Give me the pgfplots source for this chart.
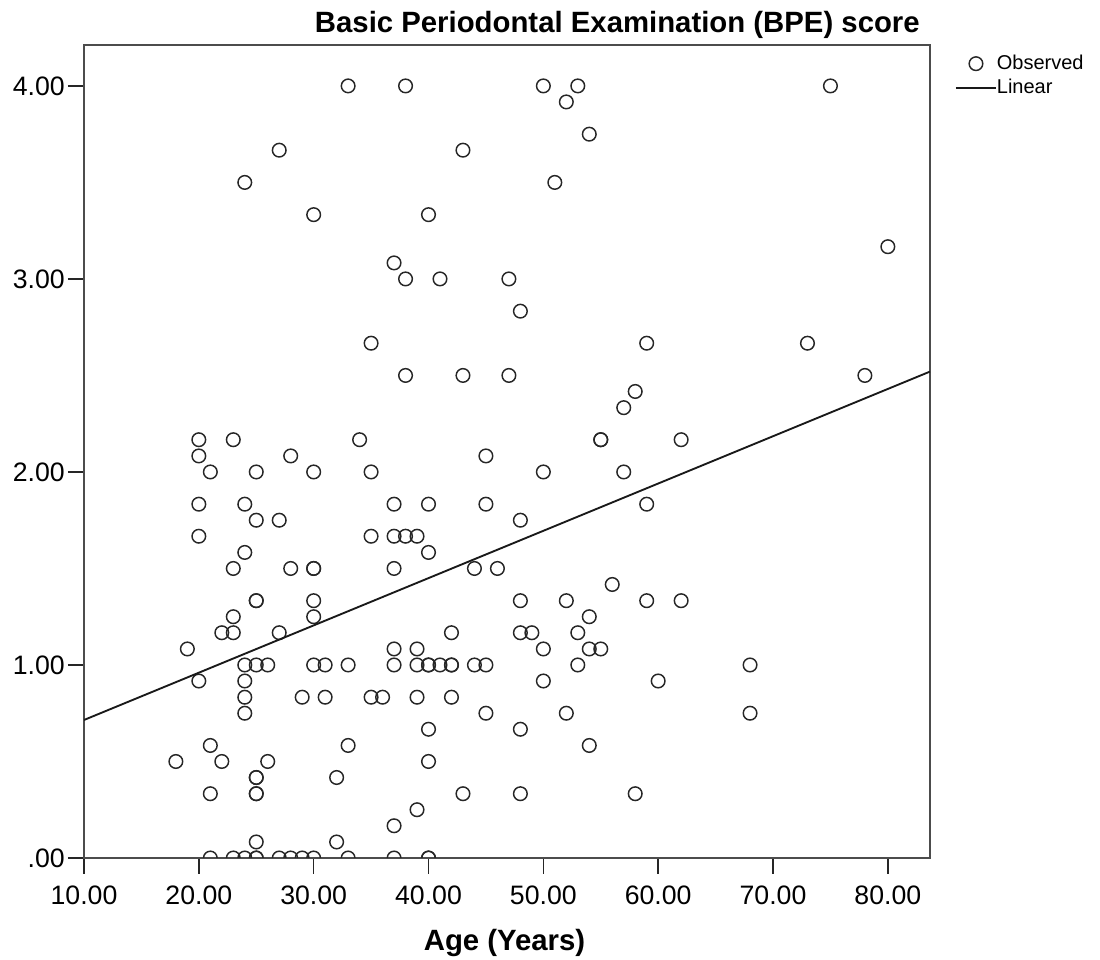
\documentclass[border=0pt]{standalone}
\usepackage{fontspec}
\setmainfont{Liberation Sans}
\usepackage{pgfplots}
\usepackage{pgfplotstable}
\pgfplotsset{compat=1.18}
\pgfplotstableread{
age bpe
33 4.000
38 4.000
50 4.000
53 4.000
75 4.000
52 3.917
54 3.750
27 3.667
43 3.667
24 3.500
51 3.500
30 3.333
40 3.333
80 3.167
37 3.083
38 3.000
41 3.000
47 3.000
48 2.833
35 2.667
59 2.667
73 2.667
38 2.500
43 2.500
47 2.500
78 2.500
58 2.417
57 2.333
20 2.167
23 2.167
34 2.167
55 2.167
55 2.167
62 2.167
20 2.083
28 2.083
45 2.083
21 2.000
25 2.000
30 2.000
35 2.000
50 2.000
57 2.000
20 1.833
24 1.833
37 1.833
40 1.833
45 1.833
59 1.833
25 1.750
27 1.750
48 1.750
20 1.667
35 1.667
37 1.667
38 1.667
39 1.667
24 1.583
40 1.583
23 1.500
28 1.500
30 1.500
30 1.500
37 1.500
44 1.500
46 1.500
56 1.417
25 1.333
25 1.333
30 1.333
48 1.333
52 1.333
59 1.333
62 1.333
23 1.250
30 1.250
54 1.250
22 1.167
23 1.167
27 1.167
42 1.167
48 1.167
49 1.167
53 1.167
19 1.083
37 1.083
39 1.083
50 1.083
54 1.083
55 1.083
24 1.000
25 1.000
26 1.000
30 1.000
31 1.000
33 1.000
37 1.000
39 1.000
40 1.000
40 1.000
41 1.000
42 1.000
42 1.000
44 1.000
45 1.000
53 1.000
68 1.000
20 0.917
24 0.917
50 0.917
60 0.917
24 0.833
29 0.833
31 0.833
35 0.833
36 0.833
39 0.833
42 0.833
24 0.750
45 0.750
52 0.750
68 0.750
40 0.667
48 0.667
21 0.583
33 0.583
54 0.583
18 0.500
22 0.500
26 0.500
40 0.500
25 0.417
25 0.417
32 0.417
21 0.333
25 0.333
25 0.333
43 0.333
48 0.333
58 0.333
39 0.250
37 0.167
25 0.083
32 0.083
21 0.000
23 0.000
24 0.000
25 0.000
25 0.000
27 0.000
28 0.000
29 0.000
30 0.000
33 0.000
37 0.000
40 0.000
40 0.000
}\observed
\begin{document}
\begin{tikzpicture}
\path[use as bounding box] (-63pt,-76.5pt) rectangle (762pt,643.5pt);
\begin{axis}[
  at={(0pt,0pt)}, anchor=south west,
  scale only axis, width=634.5pt, height=609.75pt,
  xmin=10, xmax=83.67, ymin=0, ymax=4.212,
  axis line style={black!70, line width=1.4pt},
  clip marker paths=true,
  xtick={10,20,30,40,50,60,70,80},
  xticklabels={10.00,20.00,30.00,40.00,50.00,60.00,70.00,80.00},
  ytick={0,1,2,3,4},
  yticklabels={.00,1.00,2.00,3.00,4.00},
  tick align=outside, major tick length=12pt,
  xtick pos=bottom, ytick pos=left,
  tick style={black!85, line width=1.2pt},
  ticklabel style={font=\fontsize{20}{24}\selectfont, inner sep=0pt},
  xticklabel style={anchor=north, yshift=-9pt},
  yticklabel style={anchor=east, xshift=-2.25pt},
  /pgf/number format/assume math mode=true,
  legend style={at={(1.0296,0.9885)}, anchor=north west, draw=none, fill=none,
    inner sep=0pt, outer sep=0pt, font=\fontsize{15}{18}\selectfont, row sep=4pt,
    nodes={inner sep=0pt, text height=11pt, text depth=3pt},
    /tikz/every even column/.append style={column sep=3pt}},
  legend cell align=left,
  legend image code/.code={\draw[mark repeat=2,mark phase=2,#1] plot coordinates {(0pt,0pt) (15pt,0pt) (30pt,0pt)};},
]
\addplot[only marks, mark=o, color=black!85, mark size=5.1pt, mark options={line width=1.1pt}] table[x=age, y=bpe] {\observed};
\addlegendentry{Observed}
\addplot[black!90, line width=1.4pt] coordinates {(10,0.715) (83.67,2.52)};
\addlegendentry{Linear}
\end{axis}
\node[anchor=base east, font=\fontsize{22}{26}\selectfont\bfseries, inner sep=0pt] at (627pt,618.75pt) {Basic Periodontal Examination (BPE) score};
\node[anchor=base, font=\fontsize{22}{26}\selectfont\bfseries, inner sep=0pt] at (315.4pt,-69.75pt) {Age (Years)};
\end{tikzpicture}
\end{document}
